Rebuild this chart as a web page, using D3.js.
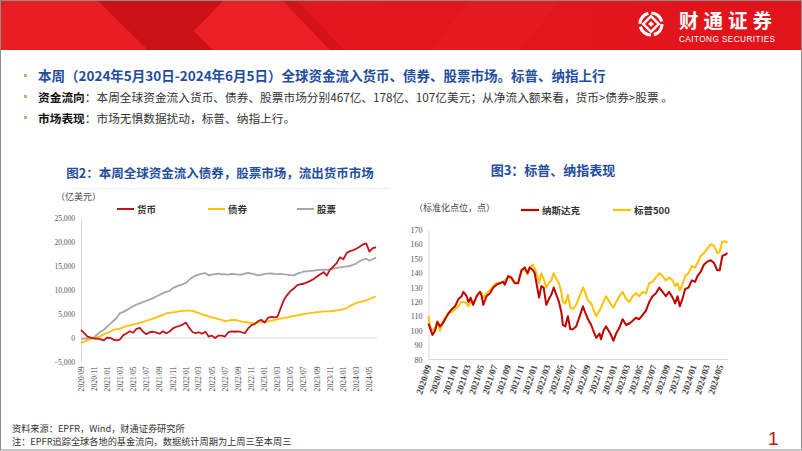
<!DOCTYPE html>
<html><head><meta charset="utf-8">
<script src="https://cdn.jsdelivr.net/npm/d3@7"></script>
<style>body{margin:0;background:#fff;}svg{display:block;}</style>
</head><body><svg id="c" width="802" height="451"></svg>
<script>
// ---------------- DATA ----------------
const leftDates = ["2020-09-01","2020-09-16","2020-10-01","2020-10-16","2020-11-01","2020-11-16","2020-12-01","2020-12-16",
"2021-01-01","2021-01-16","2021-02-01","2021-02-16","2021-03-01","2021-03-16","2021-04-01","2021-04-16","2021-05-01","2021-05-16","2021-06-01","2021-06-16",
"2021-07-01","2021-07-16","2021-08-01","2021-08-16","2021-09-01","2021-09-16","2021-10-01","2021-10-16","2021-11-01","2021-11-16","2021-12-01","2021-12-16",
"2022-01-01","2022-01-16","2022-02-01","2022-02-16","2022-03-01","2022-03-16","2022-04-01","2022-04-16","2022-05-01","2022-05-16","2022-06-01","2022-06-16",
"2022-07-01","2022-07-16","2022-08-01","2022-08-16","2022-09-01","2022-09-16","2022-10-01","2022-10-16","2022-11-01","2022-11-16","2022-12-01","2022-12-16",
"2023-01-01","2023-01-16","2023-02-01","2023-02-16","2023-03-01","2023-03-16","2023-04-01","2023-04-16","2023-05-01","2023-05-16","2023-06-01","2023-06-16",
"2023-07-01","2023-07-16","2023-08-01","2023-08-16","2023-09-01","2023-09-16","2023-10-01","2023-10-16","2023-11-01","2023-11-16","2023-12-01","2023-12-16",
"2024-01-01","2024-01-16","2024-02-01","2024-02-16","2024-03-01","2024-03-16","2024-04-01","2024-04-16","2024-05-01","2024-05-16","2024-06-01"];
const moneyFlow = [1700,1000,300,100,-100,-150,-300,-500,100,0,-400,-500,-300,600,1000,1400,1100,1900,2100,1300,
800,1200,1300,1100,900,1400,1000,1300,2000,2300,2500,2800,3200,2100,1200,1000,1200,900,1300,300,
500,0,500,500,300,1200,1400,1300,1400,1200,1000,2000,2700,2900,3500,3800,3200,4200,4400,4300,
4400,6200,8000,9000,9800,10300,11000,11200,11300,11600,11900,12300,12800,13300,13700,13000,14300,14900,15600,16800,
16400,17700,18100,18300,18600,19000,19500,19700,18000,18700,18900];
const bondFlow = [-1000,-750,-450,-250,-50,200,400,800,1050,1400,1750,1850,1950,2250,2450,2650,2800,2950,3150,3350,
3600,3800,4050,4300,4550,4800,5150,5250,5350,5450,5550,5650,5700,5700,5650,5400,5200,4950,4700,4500,
4300,4150,3950,3750,3500,3600,3750,3750,3600,3400,3350,3200,3100,3150,3200,3300,3350,3450,3600,3750,
3900,4050,4200,4300,4450,4600,4700,4850,5000,5100,5250,5300,5400,5450,5550,5550,5550,5650,5750,5850,
6000,6200,6700,7000,7300,7450,7650,7850,8150,8400,8700];
const equityFlow = [-150,-150,-150,-100,150,800,1300,1700,2400,3000,3700,4300,5200,5450,5800,6250,6600,6950,7200,7500,
7750,7980,8300,8650,9000,9350,9600,9750,10400,10700,10950,11150,11500,12100,12700,13000,13200,13400,13500,13050,
13200,13300,13400,13250,13300,13200,13350,13300,13200,13200,13400,13550,13400,13250,13050,13150,13350,13400,13450,13350,
13300,13350,13250,13200,13100,13050,13400,13600,13850,13900,14000,14050,14150,14200,14230,14200,14300,14450,14600,14700,
14800,14900,15000,15300,15500,16000,16350,16520,16100,16400,16750];
const leftSeriesNames = ["货币","债券","股票"];
const leftYTicks = [-5000,0,5000,10000,15000,20000,25000];
const monthTicks = ["2020/09","2020/11","2021/01","2021/03","2021/05","2021/07","2021/09","2021/11","2022/01","2022/03","2022/05","2022/07",
"2022/09","2022/11","2023/01","2023/03","2023/05","2023/07","2023/09","2023/11","2024/01","2024/03","2024/05"];

const rightDates = ["2020-09-01","2020-09-08","2020-09-19","2020-10-01","2020-10-12","2020-10-24","2020-11-05","2020-11-16","2020-12-01","2020-12-17",
"2021-01-01","2021-01-16","2021-01-31","2021-02-08","2021-02-23","2021-03-03","2021-03-13","2021-03-25","2021-04-10","2021-04-25",
"2021-05-03","2021-05-10","2021-05-25","2021-06-10","2021-06-25","2021-07-10","2021-07-25","2021-08-09","2021-08-17","2021-09-01",
"2021-09-16","2021-10-02","2021-10-17","2021-11-01","2021-11-16","2021-11-29","2021-12-09","2021-12-24","2022-01-01","2022-01-09",
"2022-01-21","2022-01-31","2022-02-11","2022-02-23","2022-03-07","2022-03-18","2022-03-29","2022-04-10","2022-04-22","2022-05-03",
"2022-05-10","2022-05-21","2022-06-02","2022-06-13","2022-06-25","2022-07-10","2022-07-26","2022-08-10","2022-08-17","2022-09-02",
"2022-09-17","2022-09-24","2022-10-10","2022-10-25","2022-11-01","2022-11-12","2022-11-24","2022-12-06","2022-12-17","2022-12-28",
"2023-01-09","2023-01-24","2023-02-08","2023-02-24","2023-03-11","2023-03-26","2023-04-10","2023-04-25","2023-05-11","2023-05-26",
"2023-06-10","2023-06-25","2023-07-11","2023-07-26","2023-08-10","2023-08-25","2023-09-09","2023-09-25","2023-10-07","2023-10-18",
"2023-10-28","2023-11-09","2023-11-22","2023-12-07","2023-12-22","2024-01-06","2024-01-17","2024-02-01","2024-02-16","2024-03-02",
"2024-03-18","2024-04-02","2024-04-17","2024-04-28","2024-05-10","2024-05-25","2024-06-02"];
const nasdaq = [105,102,97,100,106,103,105,108,112,115,117,122,124,127,124,120,123,118,124,127,
124,118,124,126,130,132,133,134,132,138,137,133,133,142,144,140,144,142,140,133,
123,131,130,118,122,125,130,125,120,113,104,103,110,101,101,103,110,117,114,108,
104,101,95,98,94,100,103,100,97,93,98,102,108,104,105,107,109,108,111,114,
120,124,126,130,127,124,127,123,119,124,117,122,129,130,135,134,138,141,146,148,
149,147,142,142,152,153,154];
const sp500 = [110,103,100,102,107,100,106,109,112,113,115,117,120,120,119,117,120,119,124,127,
126,123,126,128,131,133,133,134,135,137,136,133,134,141,143,139,144,146,143,140,
133,140,136,130,133,135,140,136,133,127,120,119,125,116,115,118,124,130,128,121,
119,116,110,114,116,120,124,121,118,116,120,124,127,122,120,124,126,124,127,126,
133,134,137,140,138,135,137,135,131,133,128,132,138,140,145,144,147,152,154,157,
160,159,154,155,162,162,161];
const rightSeriesNames = ["纳斯达克","标普500"];
const rightYTicks = [80,90,100,110,120,130,140,150,160,170];

// ---------------- DRAW ----------------
const svg = d3.select("#c");
const CJK = "'Noto Sans CJK SC','Noto Sans',sans-serif";
const SERIF = "'Liberation Serif','DejaVu Serif',serif";
const parse = d3.utcParse("%Y-%m-%d");
const parseM = d3.utcParse("%Y/%m");

// header band
const defs = svg.append("defs");
const g1 = defs.append("linearGradient").attr("id","hg").attr("x1","0").attr("x2","1");
g1.append("stop").attr("offset","0").attr("stop-color","#e5191e");
g1.append("stop").attr("offset","1").attr("stop-color","#e0141a");
svg.append("rect").attr("x",0).attr("y",0).attr("width",802).attr("height",451).attr("fill","#fff");
svg.append("rect").attr("x",0).attr("y",1).attr("width",802).attr("height",49).attr("fill","url(#hg)");
svg.append("polygon").attr("points","0,1 98,1 148,50 0,50").attr("fill","#ea1e22");
svg.append("polygon").attr("points","98,1 223,1 194,31 213,50 148,50").attr("fill","#c91116");
svg.append("polygon").attr("points","194,31 223,1 290,1 340,50 213,50").attr("fill","#ec2024");
svg.append("polygon").attr("points","283,1 298,1 344,50 330,50").attr("fill","#d01419");
svg.append("polygon").attr("points","470,1 560,1 520,50 430,50").attr("fill","#e31a1f");
svg.append("line").attr("x1",0).attr("x2",802).attr("y1",0.5).attr("y2",0.5).attr("stroke","#9a9a9a");

// logo
const lg = svg.append("g").attr("transform","translate(651,24)");
lg.append("circle").attr("r",11).attr("fill","none").attr("stroke","#fff").attr("stroke-width",3.2)
  .attr("stroke-dasharray","14.2 3.1");
lg.append("rect").attr("x",-5.5).attr("y",-5.5).attr("width",11).attr("height",11)
  .attr("transform","rotate(45)").attr("fill","none").attr("stroke","#fff").attr("stroke-width",2.4);
lg.append("rect").attr("x",-2).attr("y",-2).attr("width",4).attr("height",4).attr("transform","rotate(45)").attr("fill","#fff");
svg.append("text").attr("x",679).attr("y",27.5).attr("fill","#fff").attr("font-family",CJK).attr("font-weight",700)
  .attr("font-size",19.5).attr("letter-spacing",5).text("财通证券");
svg.append("text").attr("x",679).attr("y",41.5).attr("fill","#fff").attr("font-family","'Liberation Sans',Arial,sans-serif")
  .attr("font-size",8.2).attr("textLength",96).text("CAITONG SECURITIES");

// bullet text
const bullets = [
  {y:81, parts:[{t:"本周（2024年5月30日-2024年6月5日）全球资金流入货币、债券、股票市场。标普、纳指上行",w:700,c:"#1f4e9d",s:13.5}]},
  {y:102, parts:[{t:"资金流向",w:700,c:"#111",s:11.7},{t:"：本周全球资金流入货币、债券、股票市场分别467亿、178亿、107亿美元；从净流入额来看，货币>债券>股票 。",w:400,c:"#333",s:11.7}]},
  {y:123, parts:[{t:"市场表现",w:700,c:"#111",s:11.7},{t:"：市场无惧数据扰动，标普、纳指上行。",w:400,c:"#333",s:11.7}]}
];
bullets.forEach(b=>{
  svg.append("rect").attr("x",24).attr("y",b.y-7).attr("width",3).attr("height",3).attr("fill","#dca56e");
  const t = svg.append("text").attr("x",38).attr("y",b.y).attr("font-family",CJK);
  b.parts.forEach(p=>t.append("tspan").attr("font-weight",p.w).attr("fill",p.c).attr("font-size",p.s).text(p.t));
});

// ===== LEFT CHART =====
svg.append("text").attr("x",220).attr("y",177.5).attr("text-anchor","middle").attr("font-family",CJK).attr("font-weight",700)
  .attr("font-size",12.5).attr("fill","#1f4e9d").text("图2：本周全球资金流入债券，股票市场，流出货币市场");
svg.append("line").attr("x1",73).attr("x2",390).attr("y1",188.5).attr("y2",188.5).attr("stroke","#eeeeee");
svg.append("text").attr("x",56).attr("y",200).attr("font-family",CJK).attr("font-size",9).attr("fill","#444").text("（亿美元）");

const lx = d3.scaleUtc().domain([parse("2020-09-01"), parse("2024-06-05")]).range([81,377]);
const ly = d3.scaleLinear().domain([-5000,25000]).range([362,218]);
const leftColors = ["#c0141c","#ffc000","#a6a6a6"];
const leftData = [moneyFlow,bondFlow,equityFlow];

// legend
const leftLegX = [117,208,297];
leftSeriesNames.forEach((n,i)=>{
  svg.append("line").attr("x1",leftLegX[i]).attr("x2",leftLegX[i]+17).attr("y1",209).attr("y2",209).attr("stroke",leftColors[i]).attr("stroke-width",2);
  svg.append("text").attr("x",leftLegX[i]+20).attr("y",212.5).attr("font-family",CJK).attr("font-weight",700).attr("font-size",9.5).attr("fill","#333").text(n);
});

// axes
const lyAxis = d3.axisLeft(ly).tickValues(leftYTicks).tickSize(0).tickPadding(6);
const gly = svg.append("g").attr("transform","translate(81,0)").call(lyAxis);
gly.select(".domain").attr("stroke","#d9d9d9");
gly.selectAll("text").attr("font-family",SERIF).attr("font-size",7.5).attr("fill","#555");
svg.append("line").attr("x1",81).attr("x2",377).attr("y1",ly(0)).attr("y2",ly(0)).attr("stroke","#d9d9d9");
monthTicks.forEach(m=>{
  const x = lx(parseM(m));
  svg.append("text").attr("transform",`translate(${x+2.7},366.5) rotate(-90)`).attr("text-anchor","end")
    .attr("font-family",SERIF).attr("font-size",7.6).attr("fill","#444").text(m);
});

const lline = d3.line().x((d,i)=>lx(parse(leftDates[i]))).y(d=>ly(d)).curve(d3.curveLinear);
[2,1,0].forEach(i=>{
  svg.append("path").datum(leftData[i]).attr("d",lline).attr("fill","none").attr("stroke",leftColors[i])
    .attr("stroke-width",1.8).attr("stroke-linejoin","round");
});

// ===== RIGHT CHART =====
svg.append("text").attr("x",553).attr("y",175).attr("text-anchor","middle").attr("font-family",CJK).attr("font-weight",700)
  .attr("font-size",13).attr("fill","#1f4e9d").text("图3：标普、纳指表现");
svg.append("text").attr("x",414).attr("y",211).attr("font-family",CJK).attr("font-size",9).attr("fill","#444").text("（标准化点位，点）");

const rx = d3.scaleUtc().domain([parse("2020-09-01"), parse("2024-06-05")]).range([428.5,728]);
const ry = d3.scaleLinear().domain([80,170]).range([359.5,230]);
const rightColors = ["#c00000","#ffc000"];
const rightData = [nasdaq,sp500];
const rightLegX = [521,613];
rightSeriesNames.forEach((n,i)=>{
  svg.append("line").attr("x1",rightLegX[i]).attr("x2",rightLegX[i]+18).attr("y1",210).attr("y2",210).attr("stroke",rightColors[i]).attr("stroke-width",2.2);
  svg.append("text").attr("x",rightLegX[i]+21).attr("y",213.5).attr("font-family",CJK).attr("font-weight",700).attr("font-size",9.5).attr("fill","#333").text(n);
});
const ryAxis = d3.axisLeft(ry).tickValues(rightYTicks).tickSize(0).tickPadding(6);
const gry = svg.append("g").attr("transform","translate(428.5,0)").call(ryAxis);
gry.select(".domain").attr("stroke","#d9d9d9");
gry.selectAll("text").attr("font-family",SERIF).attr("font-size",8).attr("fill","#555");
svg.append("line").attr("x1",428.5).attr("x2",728).attr("y1",359.5).attr("y2",359.5).attr("stroke","#d9d9d9");
monthTicks.forEach(m=>{
  const x = rx(parseM(m));
  svg.append("text").attr("transform",`translate(${x+3},366) rotate(-72)`).attr("text-anchor","end")
    .attr("font-family",SERIF).attr("font-weight",700).attr("font-size",9.3).attr("fill","#444").text(m);
});
const rline = (arr)=>d3.line().x((d,i)=>rx(parse(rightDates[i]))).y(d=>ry(d))(arr);
[1,0].forEach(i=>{
  svg.append("path").attr("d",rline(rightData[i])).attr("fill","none").attr("stroke",rightColors[i])
    .attr("stroke-width",2).attr("stroke-linejoin","round");
});

// footer
svg.append("text").attr("x",12).attr("y",432).attr("font-family",CJK).attr("font-size",9.2).attr("fill","#333").text("资料来源：EPFR，Wind，财通证券研究所");
svg.append("text").attr("x",12).attr("y",445).attr("font-family",CJK).attr("font-size",9.2).attr("fill","#333").text("注：EPFR追踪全球各地的基金流向，数据统计周期为上周三至本周三");
svg.append("text").attr("x",768).attr("y",445).attr("font-family","'Liberation Sans',Arial,sans-serif").attr("font-size",19).attr("fill","#c0141c").text("1");
// frame
svg.append("rect").attr("x",0.5).attr("y",0.5).attr("width",801).attr("height",449.5).attr("fill","none").attr("stroke","#8c8c8c");
</script></body></html>
